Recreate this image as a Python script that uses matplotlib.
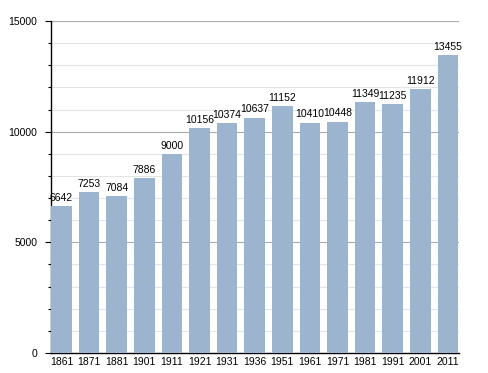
import numpy as np
import matplotlib.pyplot as plt
from matplotlib.ticker import MultipleLocator

years = ['1861', '1871', '1881', '1901', '1911', '1921', '1931', '1936',
         '1951', '1961', '1971', '1981', '1991', '2001', '2011']
population = [6642, 7253, 7084, 7886, 9000, 10156, 10374, 10637,
              11152, 10410, 10448, 11349, 11235, 11912, 13455]

plt.rcParams['font.family'] = ['Liberation Sans', 'DejaVu Sans']

fig = plt.figure(figsize=(4.88, 3.73), dpi=100)
ax = fig.add_axes([0.1045, 0.0536, 0.836, 0.89])

x = np.arange(len(years))
ax.bar(x, population, width=0.75, color='#9cb4cd', zorder=3)
for xi, v in zip(x, population):
    ax.text(xi, v + 150, str(v), ha='center', va='bottom', fontsize=7.5, zorder=4)

ax.set_xlim(-0.38, len(years) - 0.6)
ax.set_ylim(0, 15000)
ax.set_xticks(x)
ax.set_xticklabels(years, fontsize=7.5)
ax.tick_params(axis='x', length=0, pad=3)
ax.yaxis.set_major_locator(MultipleLocator(5000))
ax.yaxis.set_minor_locator(MultipleLocator(1000))
ax.tick_params(axis='y', which='major', length=4.5, width=0.8, labelsize=7.5, pad=5.5)
ax.tick_params(axis='y', which='minor', length=2.5, width=0.8)

for val in range(1000, 15001, 1000):
    col = '#aaaaaa' if val % 5000 == 0 else '#e4e4e4'
    ax.axhline(val, color=col, lw=0.8, zorder=1)

for side in ['top', 'right']:
    ax.spines[side].set_visible(False)
ax.spines['left'].set_linewidth(1.0)
ax.spines['bottom'].set_linewidth(1.0)

fig.savefig('out.png', dpi=100)
